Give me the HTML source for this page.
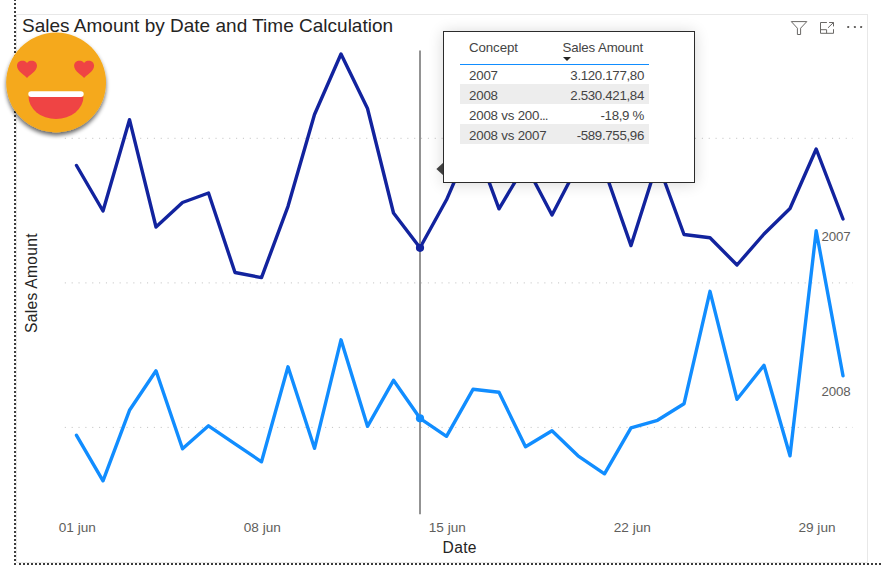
<!DOCTYPE html>
<html>
<head>
<meta charset="utf-8">
<style>
html,body{margin:0;padding:0;background:#fff;}
body{width:883px;height:571px;position:relative;overflow:hidden;font-family:"Liberation Sans",sans-serif;}
.abs{position:absolute;}
#svg{position:absolute;left:0;top:0;}
.title{position:absolute;left:22px;top:14.2px;font-size:19px;color:#252423;white-space:nowrap;letter-spacing:0.01px;line-height:24px;}
.xt{position:absolute;top:519.8px;width:80px;text-align:center;font-size:13.6px;color:#605e5c;line-height:16px;white-space:nowrap;}
.lbl{position:absolute;font-size:13.3px;color:#605e5c;line-height:16px;white-space:nowrap;letter-spacing:-0.15px;}
.axt{position:absolute;font-size:15.6px;color:#252423;white-space:nowrap;line-height:18px;letter-spacing:0.3px;}
.tip{position:absolute;left:443px;top:31px;width:250px;height:150px;border:1px solid #2b2b2b;background:#fff;box-shadow:0 1px 14px rgba(0,0,0,0.16);}
.row{position:absolute;left:16px;width:189px;height:20px;font-size:13.3px;color:#444;line-height:20px;letter-spacing:-0.2px;}
.row .l{position:absolute;left:9px;top:2.4px;}
.row .r{position:absolute;right:5px;top:2.4px;letter-spacing:-0.33px;}
.row.h{line-height:20px;}
.row.h .r{letter-spacing:-0.12px;right:6px;top:0.2px;}
.row.h .l{letter-spacing:-0.1px;top:0.2px;}
.g{background:#ededed;}
</style>
</head>
<body>
<svg id="svg" width="883" height="571" viewBox="0 0 883 571">
  <defs>
    <filter id="sh" x="-20%" y="-20%" width="140%" height="150%">
      <feGaussianBlur in="SourceAlpha" stdDeviation="2.2"/>
      <feOffset dx="0" dy="3"/>
      <feComponentTransfer><feFuncA type="linear" slope="0.6"/></feComponentTransfer>
      <feMerge><feMergeNode/><feMergeNode in="SourceGraphic"/></feMerge>
    </filter>
  </defs>
  <!-- visual container border -->
  <rect x="16.5" y="14.5" width="851" height="548" fill="none" stroke="#e8e8e8" stroke-width="1"/>
  <!-- dotted borders -->
  <line x1="15" y1="-1" x2="15" y2="565" stroke="#3c3c3c" stroke-width="2" stroke-dasharray="2 2"/>
  <line x1="19" y1="564" x2="885" y2="564" stroke="#3c3c3c" stroke-width="2" stroke-dasharray="2 2"/>
  <!-- gridlines -->
  <g stroke="#c4c4c4" stroke-width="1" stroke-dasharray="1.1 5.75">
    <line x1="64.8" y1="138.3" x2="853" y2="138.3"/>
    <line x1="64.8" y1="282.9" x2="853" y2="282.9"/>
    <line x1="64.8" y1="427.4" x2="853" y2="427.4"/>
  </g>
  <!-- lines -->
  <polyline fill="none" stroke="#12239e" stroke-width="3.4" stroke-linejoin="round" stroke-linecap="round"
   points="76.5,165.5 103,211 129.5,119.7 156,227 182.5,202.5 208.5,193 235,272.5 261.5,277.6 288,206.3 314.5,114.5 341,54 367.5,108.5 393.5,213 420,247.8 446.5,199.8 473,138.5 499,208.8 525.5,164.5 552,215 578,165 604.5,170 631,245.6 657.5,162 684,234.5 710,237.8 737,265 764,234 790,208.5 816.2,149 843,219"/>
  <polyline fill="none" stroke="#118dff" stroke-width="3.4" stroke-linejoin="round" stroke-linecap="round"
   points="76.5,435.3 103,480.8 129.5,410.3 156,370.8 182.5,448.8 208.5,425.8 235,443.8 261.5,461.8 288,366.8 314.5,448.3 341,339.8 367.5,426.3 393.5,380.3 420,418.3 446.5,436.3 473,389.3 499,392.3 525.5,446.8 552,430.8 578,455.8 604.5,473.8 631,427.8 657.5,420.3 684,403.8 710,291.3 737,399.3 764,365.3 790,455.8 816.2,230.8 843,375.8"/>
  <!-- crosshair -->
  <line x1="420" y1="50.4" x2="420" y2="514.3" stroke="#939393" stroke-width="2"/>
  <circle cx="420" cy="247.8" r="4.1" fill="#12239e"/>
  <circle cx="420" cy="418.3" r="4.1" fill="#118dff"/>
  <!-- tooltip arrow -->
  <polygon points="436.4,169 444,162 444,176" fill="#444"/>
  <!-- emoji -->
  <g filter="url(#sh)">
    <circle cx="56.1" cy="82.5" r="49.9" fill="#f5a91a"/>
  </g>
  <path d="M28.5,96.5 H83.5 A27.5,22.5 0 0 1 28.5,96.5 Z" fill="#ef4444"/>
  <rect x="28.3" y="91.3" width="55.4" height="5.6" rx="2.8" fill="#fff"/>
  <path id="h1" d="M27,77.9 C25.2,75.6 17,71.6 17,65.8 C17,62.6 19.5,60.7 22.3,60.7 C24.3,60.7 26,61.3 27,63 C28,61.3 29.7,60.7 31.7,60.7 C34.5,60.7 37,62.6 37,65.8 C37,71.6 28.8,75.6 27,77.9 Z" fill="#ef4444"/>
  <use href="#h1" x="57.1"/>
  <!-- icons -->
  <g fill="none" stroke="#6a6866" stroke-width="1">
    <path d="M791.3,21.6 H806.8 L800.6,28.2 V34.5 H797.4 V28.2 Z"/>
    <path d="M826.9,22.5 H820.5 V33.3 H833.5 V29.2"/>
    <path d="M820.5,29.7 H826.6 V33.3"/>
    <path d="M829.1,22.5 H833.5 V26.4 M833.5,22.5 L828,27.8"/>
  </g>
  <g fill="#605e5c">
    <rect x="847.2" y="26" width="2" height="2" rx="0.4"/><rect x="853.9" y="26" width="2" height="2" rx="0.4"/><rect x="860.1" y="26" width="2" height="2" rx="0.4"/>
  </g>
</svg>
<div class="title">Sales Amount by Date and Time Calculation</div>
<div class="xt" style="left:37.3px">01 jun</div>
<div class="xt" style="left:222.3px">08 jun</div>
<div class="xt" style="left:407.3px">15 jun</div>
<div class="xt" style="left:592.3px">22 jun</div>
<div class="xt" style="left:777px">29 jun</div>
<div class="lbl" style="left:821.5px;top:228.5px">2007</div>
<div class="lbl" style="left:821.5px;top:383.5px">2008</div>
<div class="axt" style="left:442.6px;top:538.7px">Date</div>
<div class="axt" style="left:31.6px;top:283.4px;transform:translate(-50%,-50%) rotate(-90deg);">Sales Amount</div>
<div class="tip">
  <div class="row h" style="top:6px"><span class="l">Concept</span><span class="r">Sales Amount</span></div>
  <div class="abs" style="left:16px;top:32px;width:189px;height:1px;background:#118dff"></div>
  <div class="abs" style="left:119.3px;top:25.2px;width:0;height:0;border-left:4px solid transparent;border-right:4px solid transparent;border-top:4.2px solid #252423"></div>
  <div class="row" style="top:32px"><span class="l">2007</span><span class="r">3.120.177,80</span></div>
  <div class="row g" style="top:52px"><span class="l">2008</span><span class="r">2.530.421,84</span></div>
  <div class="row" style="top:72px"><span class="l">2008 vs 200<span style="letter-spacing:-1px">...</span></span><span class="r">-18,9 %</span></div>
  <div class="row g" style="top:92px"><span class="l">2008 vs 2007</span><span class="r">-589.755,96</span></div>
</div>
</body>
</html>
